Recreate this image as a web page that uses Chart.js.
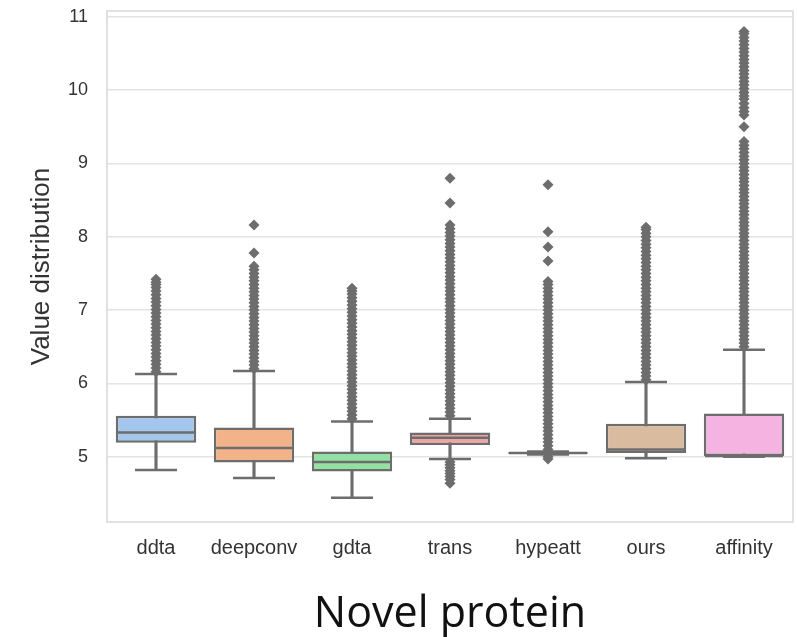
<!DOCTYPE html>
<html>
<head>
<meta charset="utf-8">
<script src="https://cdn.jsdelivr.net/npm/chart.js@4/dist/chart.umd.min.js"></script>
<style>
  html, body { margin: 0; padding: 0; background: #ffffff; }
  #wrap { width: 797px; height: 637px; }
</style>
</head>
<body>
<div id="wrap"><canvas id="c" width="797" height="637"></canvas></div>
<script>
// ---- data ----
const categories = ['ddta', 'deepconv', 'gdta', 'trans', 'hypeatt', 'ours', 'affinity'];
const whiskerLow  = [4.82, 4.71, 4.44, 4.97, 5.03, 4.98, 5.00];
const q1          = [5.19, 4.92, 4.80, 5.16, 5.04, 5.05, 5.01];
const median      = [5.33, 5.12, 4.93, 5.26, 5.05, 5.10, 5.01];
const q3          = [5.56, 5.40, 5.07, 5.33, 5.06, 5.45, 5.59];
const whiskerHigh = [6.13, 6.17, 5.48, 5.52, 5.07, 6.02, 6.46];

const ddtaOutliers = [6.16, 6.21, 6.26, 6.31, 6.36, 6.41, 6.46, 6.51, 6.56, 6.61, 6.66, 6.71, 6.76, 6.81, 6.86, 6.91, 6.96, 7.01, 7.06, 7.11, 7.16, 7.21, 7.26, 7.31, 7.35, 7.38, 7.42];
const deepconvOutliers = [6.20, 6.25, 6.30, 6.35, 6.40, 6.45, 6.50, 6.55, 6.60, 6.65, 6.70, 6.75, 6.80, 6.85, 6.90, 6.95, 7.00, 7.05, 7.10, 7.15, 7.20, 7.25, 7.30, 7.35, 7.40, 7.45, 7.50, 7.55, 7.60, 7.78, 8.16];
const gdtaOutliers = [5.52, 5.57, 5.62, 5.67, 5.72, 5.77, 5.82, 5.87, 5.92, 5.97, 6.02, 6.07, 6.12, 6.17, 6.22, 6.27, 6.32, 6.37, 6.42, 6.47, 6.52, 6.57, 6.62, 6.67, 6.72, 6.77, 6.82, 6.87, 6.92, 6.97, 7.02, 7.07, 7.12, 7.17, 7.22, 7.26, 7.30];
const transOutliers = [4.64, 4.69, 4.73, 4.77, 4.81, 4.85, 4.89, 4.93, 5.56, 5.61, 5.66, 5.71, 5.76, 5.81, 5.86, 5.91, 5.96, 6.01, 6.06, 6.11, 6.16, 6.21, 6.26, 6.31, 6.36, 6.41, 6.46, 6.51, 6.56, 6.61, 6.66, 6.71, 6.76, 6.81, 6.86, 6.91, 6.96, 7.01, 7.06, 7.11, 7.16, 7.21, 7.26, 7.31, 7.36, 7.41, 7.46, 7.51, 7.56, 7.61, 7.66, 7.71, 7.76, 7.81, 7.86, 7.91, 7.96, 8.01, 8.06, 8.11, 8.16, 8.46, 8.80];
const hypeattOutliers = [4.97, 5.00, 5.10, 5.15, 5.20, 5.25, 5.30, 5.35, 5.40, 5.45, 5.50, 5.55, 5.60, 5.65, 5.70, 5.75, 5.80, 5.85, 5.90, 5.95, 6.00, 6.05, 6.10, 6.15, 6.20, 6.25, 6.30, 6.35, 6.40, 6.45, 6.50, 6.55, 6.60, 6.65, 6.70, 6.75, 6.80, 6.85, 6.90, 6.95, 7.00, 7.05, 7.10, 7.15, 7.20, 7.25, 7.30, 7.35, 7.39, 7.67, 7.86, 8.07, 8.71];
const oursOutliers = [6.05, 6.10, 6.15, 6.20, 6.25, 6.30, 6.35, 6.40, 6.45, 6.50, 6.55, 6.60, 6.65, 6.70, 6.75, 6.80, 6.85, 6.90, 6.95, 7.00, 7.05, 7.10, 7.15, 7.20, 7.25, 7.30, 7.35, 7.40, 7.45, 7.50, 7.55, 7.60, 7.65, 7.70, 7.75, 7.80, 7.85, 7.90, 7.95, 8.00, 8.05, 8.10, 8.13];
const affinityOutliers = [6.50, 6.55, 6.60, 6.65, 6.70, 6.75, 6.80, 6.85, 6.90, 6.95, 7.00, 7.05, 7.10, 7.15, 7.20, 7.25, 7.30, 7.35, 7.40, 7.45, 7.50, 7.55, 7.60, 7.65, 7.70, 7.75, 7.80, 7.85, 7.90, 7.95, 8.00, 8.05, 8.10, 8.15, 8.20, 8.25, 8.30, 8.35, 8.40, 8.45, 8.50, 8.55, 8.60, 8.65, 8.70, 8.75, 8.80, 8.85, 8.90, 8.95, 9.00, 9.05, 9.10, 9.15, 9.20, 9.25, 9.30, 9.50, 9.66, 9.71, 9.76, 9.82, 9.88, 9.92, 9.97, 10.02, 10.07, 10.12, 10.17, 10.22, 10.27, 10.32, 10.37, 10.42, 10.47, 10.52, 10.57, 10.62, 10.67, 10.72, 10.77, 10.80];
const outliers = [ddtaOutliers, deepconvOutliers, gdtaOutliers, transOutliers, hypeattOutliers, oursOutliers, affinityOutliers];

const yTicks = [5, 6, 7, 8, 9, 10, 11];
const yMin = 4.11, yMax = 11.08;

// ---- styles ----
const boxColors = ['#a4c6ec', '#f2b38b', '#93e0a3', '#f0a4a2', '#cfbdf4', '#d9bc9f', '#f4b3e1'];
const lineGray = '#6d6d6d';

const framePlugin = {
  id: 'frame',
  beforeDatasetsDraw(chart) {
    const { ctx, chartArea: a } = chart;
    ctx.save();
    ctx.strokeStyle = '#d8d8d8';
    ctx.lineWidth = 1.5;
    ctx.strokeRect(a.left, a.top, a.right - a.left, a.bottom - a.top);
    ctx.restore();
  }
};

const whiskerData = categories.map((c, i) => [whiskerLow[i], whiskerHigh[i]]);
const boxData = categories.map((c, i) => [q1[i], q3[i]]);
const medianData = categories.map((c, i) => ({ x: c, y: median[i] }));
const capData = [];
categories.forEach((c, i) => { capData.push({ x: c, y: whiskerLow[i] }); capData.push({ x: c, y: whiskerHigh[i] }); });
const outlierData = [];
categories.forEach((c, i) => outliers[i].forEach(v => outlierData.push({ x: c, y: v })));

new Chart(document.getElementById('c'), {
  data: {
    labels: categories,
    datasets: [
      {
        type: 'line', label: 'outliers', data: outlierData, order: 0,
        showLine: false, pointStyle: 'rectRot', pointRadius: 5.5, pointHoverRadius: 5.5,
        pointBackgroundColor: lineGray, pointBorderColor: lineGray, pointBorderWidth: 0
      },
      {
        type: 'line', label: 'caps', data: capData, order: 1,
        showLine: false, pointStyle: 'line', pointRadius: 21, pointHoverRadius: 21,
        pointBorderColor: lineGray, pointBorderWidth: 2.5
      },
      {
        type: 'line', label: 'median', data: medianData, order: 2,
        showLine: false, pointStyle: 'line', pointRadius: 39, pointHoverRadius: 39,
        pointBorderColor: lineGray, pointBorderWidth: 2.5
      },
      {
        type: 'bar', label: 'box', data: boxData, order: 3, grouped: false,
        backgroundColor: boxColors, borderColor: lineGray, borderWidth: 2.5, borderSkipped: false,
        barPercentage: 0.82, categoryPercentage: 1
      },
      {
        type: 'bar', label: 'whisker', data: whiskerData, order: 4, grouped: false,
        backgroundColor: lineGray, borderWidth: 0, barThickness: 2.5
      }
    ]
  },
  options: {
    responsive: false,
    animation: false,
    events: [],
    layout: { autoPadding: false, padding: { top: 11, right: 4, left: 0, bottom: 0 } },
    plugins: { legend: { display: false }, tooltip: { enabled: false } },
    scales: {
      x: {
        type: 'category',
        grid: { display: false, drawTicks: false },
        border: { display: false },
        ticks: { color: '#333333', padding: 14, font: { family: 'Liberation Sans', size: 20 } },
        title: {
          display: true, text: 'Novel protein', color: '#111111',
          font: { family: 'Open Sans', size: 43, lineHeight: 1.05 }, padding: { top: 0, bottom: 0 }
        },
        afterFit(s) { s.height = 115; }
      },
      y: {
        type: 'linear', min: yMin, max: yMax,
        grid: { color: '#e4e4e4', lineWidth: 1.5, drawTicks: true, tickLength: 19, tickColor: 'rgba(0,0,0,0)' },
        border: { display: false },
        ticks: { color: '#333333', padding: 0, font: { family: 'Liberation Sans', size: 18 } },
        afterBuildTicks(s) { s.ticks = yTicks.map(v => ({ value: v })); },
        title: {
          display: true, text: 'Value distribution', color: '#333333',
          font: { family: 'Liberation Sans', size: 26 }, padding: { top: 26, bottom: 0 }
        },
        afterFit(s) { s.width = 107; }
      }
    }
  },
  plugins: [framePlugin]
});
</script>
</body>
</html>
